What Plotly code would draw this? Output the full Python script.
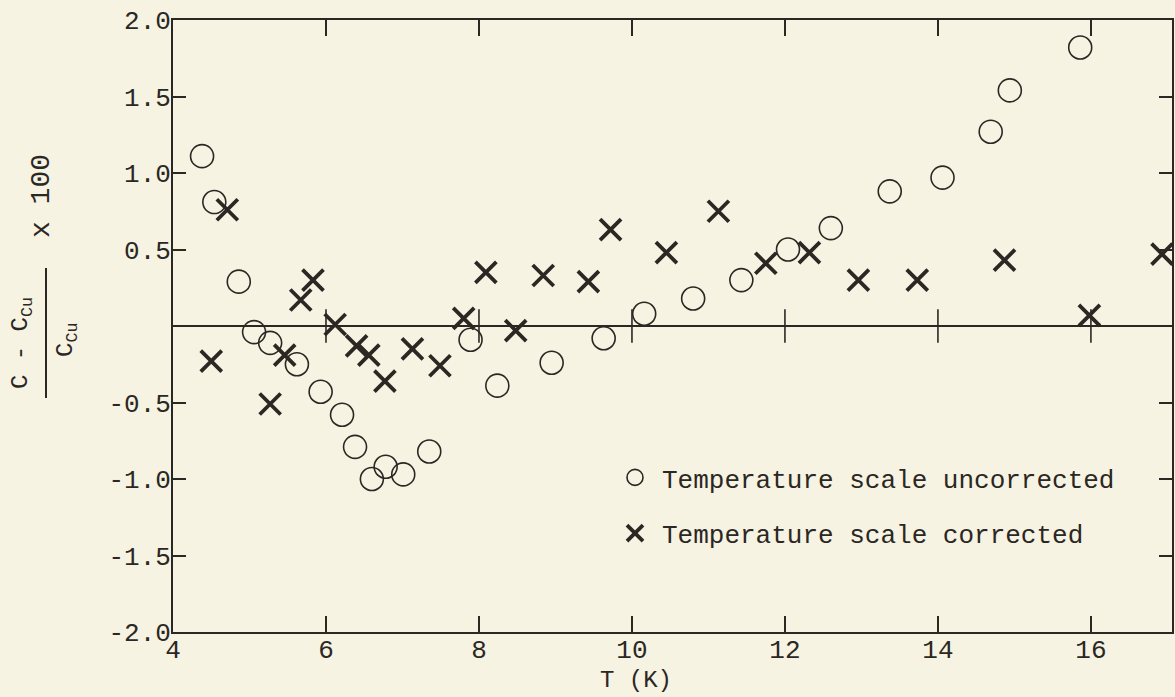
import plotly.graph_objects as go

# ---- data ----
t_uncorr = [4.38, 4.54, 4.86, 5.06, 5.27, 5.62, 5.93, 6.21, 6.38, 6.60, 6.78, 7.01, 7.35,
            7.89, 8.24, 8.95, 9.63, 10.16, 10.80, 11.43, 12.04, 12.60, 13.37, 14.06, 14.69,
            14.94, 15.86]
d_uncorr = [1.11, 0.81, 0.29, -0.04, -0.11, -0.25, -0.43, -0.58, -0.79, -1.00, -0.92, -0.97,
            -0.82, -0.09, -0.39, -0.24, -0.08, 0.08, 0.18, 0.30, 0.50, 0.64, 0.88, 0.97, 1.27,
            1.54, 1.82]

t_corr = [4.50, 4.71, 5.27, 5.46, 5.67, 5.83, 6.12, 6.40, 6.56, 6.77, 7.13, 7.49, 7.80,
          8.09, 8.48, 8.84, 9.43, 9.72, 10.45, 11.13, 11.75, 12.32, 12.96, 13.73, 14.87,
          15.98, 16.93]
d_corr = [-0.23, 0.76, -0.51, -0.19, 0.17, 0.30, 0.01, -0.13, -0.19, -0.36, -0.15, -0.26,
          0.05, 0.35, -0.03, 0.33, 0.29, 0.63, 0.48, 0.75, 0.41, 0.48, 0.30, 0.30, 0.43,
          0.07, 0.47]

x_tickvals = [4, 6, 8, 10, 12, 14, 16]
x_ticktext = ["4", "6", "8", "10", "12", "14", "16"]
zero_ticks = [6, 8, 10, 12, 14, 16]
y_tickvals = [2.0, 1.5, 1.0, 0.5, -0.5, -1.0, -1.5, -2.0]
y_ticktext = ["2.0", "1.5", "1.0", "0.5", "-0.5", "-1.0", "-1.5", "-2.0"]

name_uncorr = "Temperature scale uncorrected"
name_corr = "Temperature scale corrected"

INK = "#2b2723"
BG = "#f6f3e3"
FONT = "Liberation Mono"

# body margin is removed by a small post script, so figure pixels == screen pixels
W, H = 1175, 697
L, R, T, B = 173, 3, 20, 65
pw = W - L - R
ph = H - T - B


def px_x(p):  # screen pixel -> paper x
    return (p - L) / pw


def px_y(p):  # screen pixel -> paper y
    return (H - B - p) / ph


fig = go.Figure()

# ticks crossing the zero line
fig.add_trace(go.Scatter(
    x=zero_ticks, y=[0] * len(zero_ticks), mode="markers", showlegend=False,
    hoverinfo="skip",
    marker=dict(symbol="line-ns-open", size=24, color=INK, line=dict(color=INK, width=1.6)),
))

fig.add_trace(go.Scatter(
    x=t_uncorr, y=d_uncorr, mode="markers", name=name_uncorr, legendgroup="a",
    marker=dict(symbol="circle-open", size=23, color=INK, line=dict(color=INK, width=1.6)),
))
fig.add_trace(go.Scatter(
    x=t_corr, y=d_corr, mode="markers", name=name_corr, legendgroup="b",
    marker=dict(symbol="x-thin-open", size=21, color=INK, line=dict(color=INK, width=3.8)),
))

fig.update_layout(
    width=W, height=H,
    margin=dict(l=L, r=R, t=T, b=B, autoexpand=False),
    paper_bgcolor=BG, plot_bgcolor=BG,
    font=dict(family=FONT, size=26, color=INK),
    showlegend=True,
    legend=dict(
        x=px_x(608), y=px_y(454), xanchor="left", yanchor="top",
        bgcolor="rgba(0,0,0,0)", font=dict(family=FONT, size=26, color=INK),
        traceorder="grouped", tracegroupgap=19, itemsizing="trace", itemwidth=44,
    ),
    xaxis=dict(
        range=[4, 17.06], tickvals=x_tickvals, ticktext=x_ticktext,
        ticks="inside", ticklen=16, tickwidth=1.6, tickcolor=INK,
        showline=True, linecolor=INK, linewidth=1.8, mirror="ticks",
        showgrid=False, zeroline=False, ticklabelstandoff=-7,
        ticklabeloverflow="allow",
        tickfont=dict(family=FONT, size=26, color=INK),
    ),
    yaxis=dict(
        range=[-2.0, 2.0], tickvals=y_tickvals, ticktext=y_ticktext,
        ticks="inside", ticklen=13, tickwidth=1.6, tickcolor=INK,
        showline=True, linecolor=INK, linewidth=1.8, mirror="ticks",
        showgrid=False, zeroline=True, zerolinecolor=INK, zerolinewidth=1.8,
        ticklabelstandoff=-5, ticklabeloverflow="allow",
        tickfont=dict(family=FONT, size=26, color=INK),
    ),
)

# x-axis title
fig.add_annotation(text="T (K)", xref="paper", yref="paper",
                   x=px_x(636), y=px_y(680), xanchor="center", yanchor="middle",
                   showarrow=False, font=dict(family=FONT, size=24, color=INK))

# y-axis title drawn as a rotated fraction
fig.add_annotation(text="C - C<sub>Cu</sub>", xref="paper", yref="paper",
                   x=px_x(22), y=px_y(343), xanchor="center", yanchor="middle",
                   textangle=-90, showarrow=False,
                   font=dict(family=FONT, size=24, color=INK))
fig.add_annotation(text="C<sub>Cu</sub>", xref="paper", yref="paper",
                   x=px_x(67), y=px_y(340), xanchor="center", yanchor="middle",
                   textangle=-90, showarrow=False,
                   font=dict(family=FONT, size=24, color=INK))
fig.add_annotation(text="x 100", xref="paper", yref="paper",
                   x=px_x(41), y=px_y(196), xanchor="center", yanchor="middle",
                   textangle=-90, showarrow=False,
                   font=dict(family=FONT, size=28, color=INK))
fig.add_shape(type="line", xref="paper", yref="paper",
              x0=px_x(46), x1=px_x(46), y0=px_y(268), y1=px_y(398),
              line=dict(color=INK, width=2))

fig.write_html(
    "out.html",
    config={"displayModeBar": False},
    post_script="document.body.style.margin='0';document.body.style.overflow='hidden';",
)
